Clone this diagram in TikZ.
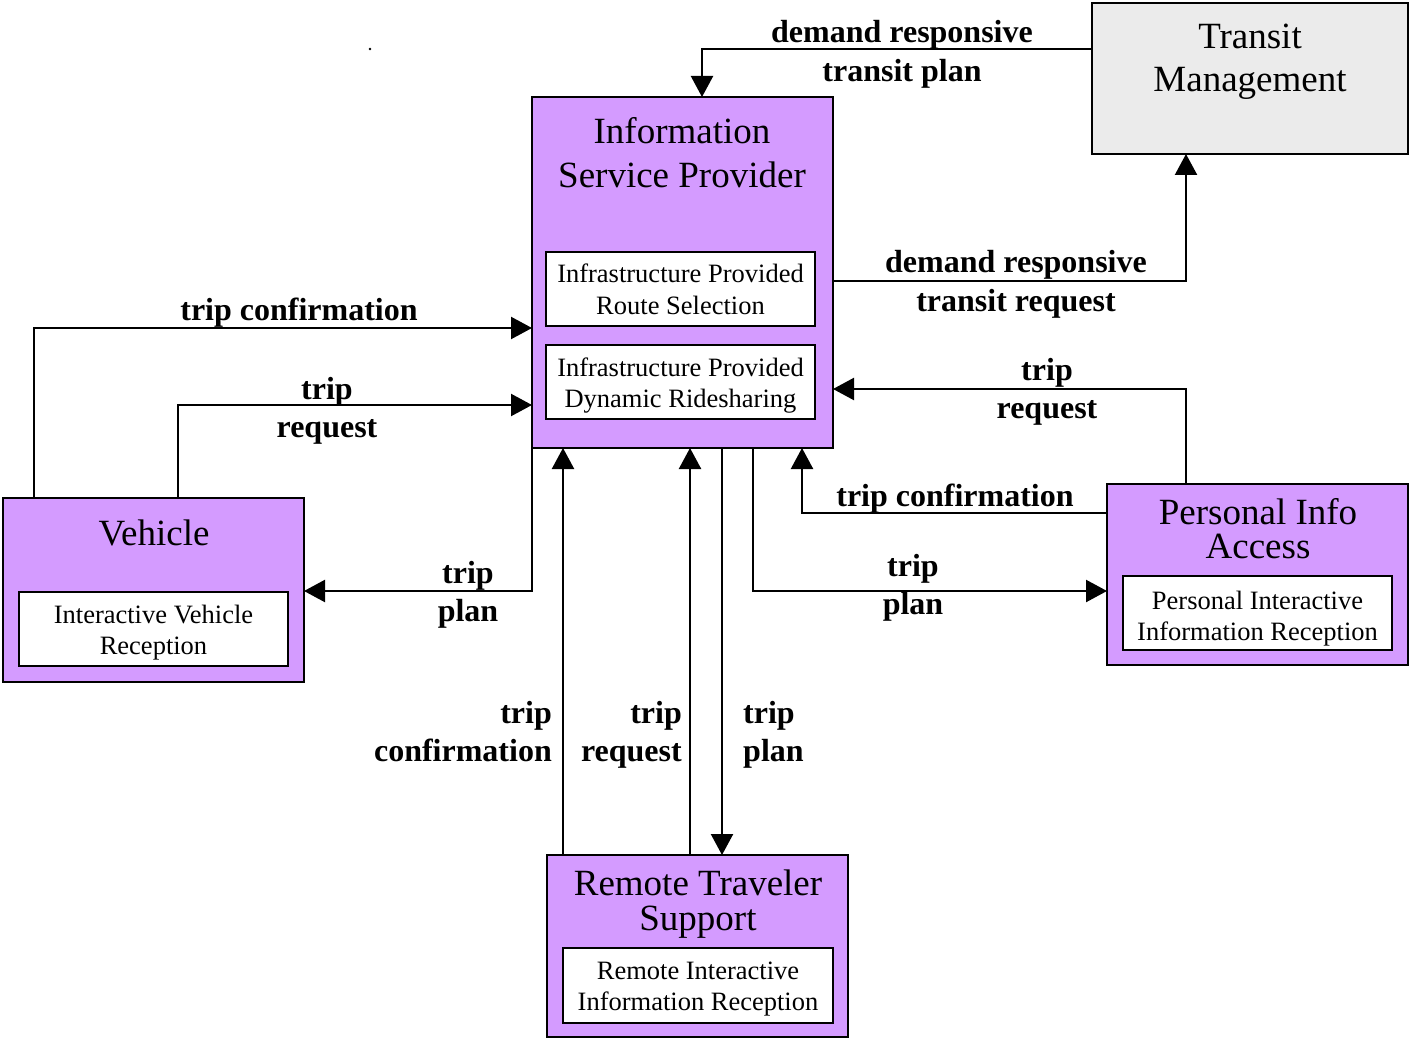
\documentclass[tikz,border=0pt]{standalone}
\usepackage{fontspec}
\setmainfont{Liberation Serif}
\usetikzlibrary{arrows.meta}
\definecolor{ispurple}{RGB}{212,155,255}
\definecolor{tmgray}{RGB}{235,235,235}
\newcommand\stk[2]{\begin{tabular}[t]{@{}#1@{}}#2\end{tabular}}
\begin{document}
\begin{tikzpicture}[x=1pt,y=-1pt,
  sysbox/.style={draw,line width=2.4pt,fill=ispurple,anchor=north west,inner sep=0pt,outer sep=0pt},
  subbox/.style={draw,line width=2.4pt,fill=white,anchor=north west,inner sep=0pt,outer sep=0pt,minimum width=269pt,minimum height=74pt},
  ttl/.style={font=\fontsize{37}{#1}\selectfont,anchor=base,inner sep=0pt},
  ttl/.default=44,
  sub/.style={font=\fontsize{26.5}{31.5}\selectfont,anchor=base,inner sep=0pt},
  lbl/.style={font=\fontsize{32}{38.5}\selectfont\bfseries,inner sep=0pt,anchor=base},
  flow/.style={line width=2.3pt,-{Triangle[length=21pt,width=22pt]}}]
\useasboundingbox (0,0) rectangle (1410,1040);
\fill[white] (0,0) rectangle (1410,1040);
\fill (370,49) circle (1.3);

% Transit Management
\node[sysbox,fill=tmgray,minimum width=316pt,minimum height=151pt] (tm) at (1092,3) {};
\node[ttl=43] (tmT) at (1250,49) {\stk{c}{Transit\\Management}};

% Information Service Provider
\node[sysbox,minimum width=301pt,minimum height=351pt] (isp) at (532,97) {};
\node[ttl=44] (ispT) at (682,144) {\stk{c}{Information\\Service Provider}};
\node[subbox] (ispA) at (546,252) {};
\node[sub] (ispAT) at (680.5,283) {\stk{c}{Infrastructure Provided\\Route Selection}};
\node[subbox] (ispB) at (546,345) {};
\node[sub] (ispBT) at (680.5,376) {\stk{c}{Infrastructure Provided\\Dynamic Ridesharing}};

% Vehicle
\node[sysbox,minimum width=301pt,minimum height=184pt] (veh) at (3,498) {};
\node[ttl] (vehT) at (154,545) {Vehicle};
\node[subbox] (vehA) at (19,592) {};
\node[sub] (vehAT) at (153.5,623) {\stk{c}{Interactive Vehicle\\Reception}};

% Personal Info Access
\node[sysbox,minimum width=301pt,minimum height=181pt] (pia) at (1107,484) {};
\node[ttl=34] (piaT) at (1258,524) {\stk{c}{Personal Info\\Access}};
\node[subbox] (piaA) at (1123,576) {};
\node[sub] (piaAT) at (1257.5,609) {\stk{c}{Personal Interactive\\Information Reception}};

% Remote Traveler Support
\node[sysbox,minimum width=301pt,minimum height=182pt] (rts) at (547,855) {};
\node[ttl=35] (rtsT) at (698,895) {\stk{c}{Remote Traveler\\Support}};
\node[subbox,minimum width=270pt,minimum height=75pt] (rtsA) at (563,948) {};
\node[sub] (rtsAT) at (698,979) {\stk{c}{Remote Interactive\\Information Reception}};

% connectors
\draw[flow] (tm.west |- 0,49) -| (isp.north -| 702,0);
\draw[flow] (isp.east |- 0,281) -| (tm.south -| 1186,0);
\draw[flow] (veh.north -| 34,0) |- (isp.west |- 0,328);
\draw[flow] (veh.north -| 178,0) |- (isp.west |- 0,405);
\draw[flow] (isp.south west) |- (veh.east |- 0,591);
\draw[flow] (pia.north -| 1186,0) |- (isp.east |- 0,389);
\draw[flow] (pia.west |- 0,513) -| (isp.south -| 802,0);
\draw[flow] (isp.south -| 753,0) |- (pia.west |- 0,591);
\draw[flow] (rts.north -| 563,0) -- (isp.south -| 563,0);
\draw[flow] (rts.north -| 690,0) -- (isp.south -| 690,0);
\draw[flow] (isp.south -| 722,0) -- (rts.north -| 722,0);

% labels
\node[lbl] (l1) at (902,43) {\stk{c}{demand responsive\\transit plan}};
\node[lbl] (l2) at (1016,273) {\stk{c}{demand responsive\\transit request}};
\node[lbl] (l3) at (299,321) {trip confirmation};
\node[lbl] (l4) at (327,399) {\stk{c}{trip\\request}};
\node[lbl] (l5) at (468,583) {\stk{c}{trip\\plan}};
\node[lbl] (l6) at (1047,380) {\stk{c}{trip\\request}};
\node[lbl] (l7) at (955,506) {trip confirmation};
\node[lbl] (l8) at (913,576) {\stk{c}{trip\\plan}};
\node[lbl,anchor=base east] (l9) at (552,723) {\stk{r}{trip\\confirmation}};
\node[lbl,anchor=base east] (l10) at (682,723) {\stk{r}{trip\\request}};
\node[lbl,anchor=base west] (l11) at (743,723) {\stk{l}{trip\\plan}};
\end{tikzpicture}
\end{document}
